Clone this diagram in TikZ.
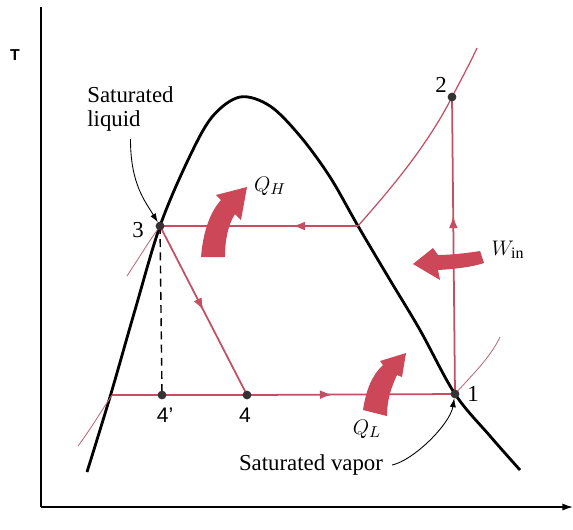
\documentclass[tikz,border=0pt]{standalone}
\usepackage{fontspec}
\setmainfont{Liberation Serif}
\setsansfont{Liberation Sans}
\usepackage{xcolor}
\usepackage{tikz}
\usetikzlibrary{arrows.meta,positioning,calc,decorations.markings}

\definecolor{cycred}{RGB}{196,78,98}
\definecolor{isored}{RGB}{186,110,124}
\definecolor{fatred}{RGB}{204,72,88}

\begin{document}
\begin{tikzpicture}[x=0.02cm,y=-0.02cm,>=Latex,
  dome/.style={line width=1.6pt,black},
  cycleline/.style={line width=1pt,cycred},
  isobar/.style={line width=0.5pt,isored},
  midarrow/.style={postaction={decorate},decoration={markings,
      mark=at position #1 with {\arrow[cycred]{Latex[length=7pt,width=5pt]}}}},
  state/.style={circle,fill=black!80,inner sep=0pt,minimum size=5pt},
  lbl/.style={font=\fontsize{13}{14}\selectfont,inner sep=0pt},
  pointer/.style={line width=0.5pt,-{Latex[length=5pt,width=3.5pt]}}]
  \useasboundingbox (0,0) rectangle (573,529);
  % axes
  \coordinate (ytop) at (41,7);
  \coordinate (origin) at (41,507);
  \coordinate (xend) at (573,507);
  \draw[line width=0.8pt] (ytop) -- (origin);
  \draw[line width=0.8pt,-{Latex[length=6pt,width=4pt]}] (origin) -- (xend);
  \node[font=\fontsize{9}{10}\sffamily\bfseries] (tlab) at (15,55) {T};
  % states
  \coordinate (p1) at (455,394);
  \coordinate (p2) at (452,97);
  \coordinate (p3) at (160,226);
  \coordinate (p4) at (247,395);
  \coordinate (p4s) at (162,395);
  \coordinate (sv) at (358,226);
  \coordinate (liq) at (112,395);
  % saturation dome
  \draw[dome] plot[smooth,tension=0.55] coordinates {(87,472) (110,397) (135,310)
    (160,226) (188,160) (212,117) (240,97) (270,106) (300,136)
    (330,177) (358,226) (390,280) (420,330) (455,394) (490,436) (520,470)};
  % isobars
  \draw[isobar] (127,276) .. controls (140,256) and (150,240) .. (p3);
  \draw[isobar] (78,446) .. controls (90,430) and (102,410) .. (liq);
  \draw[isobar] (p1) .. controls (472,375) and (490,358) .. (500,337);
  \draw[cycleline,line width=0.7pt] (sv) .. controls (385,195) and (425,150) .. (p2)
    .. controls (462,78) and (470,63) .. (477,48);
  % cycle
  \draw[cycleline] (liq) -- (p4);
  \draw[cycleline,midarrow=0.41] (p4) -- (p1);
  \draw[cycleline,midarrow=0.6] (p1) -- (p2);
  \draw[cycleline,midarrow=0.33] (sv) -- (p3);
  \draw[cycleline,midarrow=0.5] (p3) -- (p4);
  \draw[dashed,line width=0.8pt,dash pattern=on 4.5pt off 3pt] (p3) -- (p4s);
  \foreach \p in {p1,p2,p3,p4,p4s}{
    \node[state] at (\p) {};
  }
  \node[lbl] (l1) at (473,394) {1};
  \node[lbl] (l2) at (441,85) {2};
  \node[lbl] (l3) at (138,230) {3};
  \node[lbl,font=\fontsize{12}{13}\sffamily] (l4s) at (165,415) {4'};
  \node[lbl,font=\fontsize{12}{13}\sffamily] (l4) at (245,415) {4};
  % heat and work arrows
  \fill[fatred] (201,257) .. controls (203,232) and (210,212) .. (221,200) -- (216,195)
    -- (247,187) -- (241,220) -- (235,214) .. controls (228,225) and (225,240) .. (225,257) -- cycle;
  \fill[fatred] (363,410) .. controls (366,390) and (372,375) .. (383,365) -- (380,361)
    -- (406,353) -- (402,377) -- (397,375) .. controls (391,388) and (387,400) .. (387,416) -- cycle;
  \fill[fatred] (480,251) .. controls (468,253) and (450,255) .. (438,255) -- (433,248)
    -- (413,264) -- (440,280) -- (438,270) .. controls (455,269) and (472,267) .. (484,263) -- cycle;
  \node[lbl] (qh) at (270,186) {$Q_H$};
  \node[lbl] (ql) at (367,429) {$Q_L$};
  \node[lbl] (win) at (508,250) {$W_{\mathrm{in}}$};
  % saturation labels
  \node[lbl,align=left,anchor=north west] (satliq) at (87,86) {Saturated\\liquid};
  \node[lbl] (satvap) at (311,465) {Saturated vapor};
  \draw[pointer,shorten >=2.5pt] ([yshift=-4pt]satliq.south) .. controls +(0,45) and +(-15,-25) .. (p3);
  \draw[pointer,shorten >=2.5pt] ([xshift=5pt]satvap.east) .. controls +(22,-5) and +(-5,30) .. (p1);
\end{tikzpicture}
\end{document}
